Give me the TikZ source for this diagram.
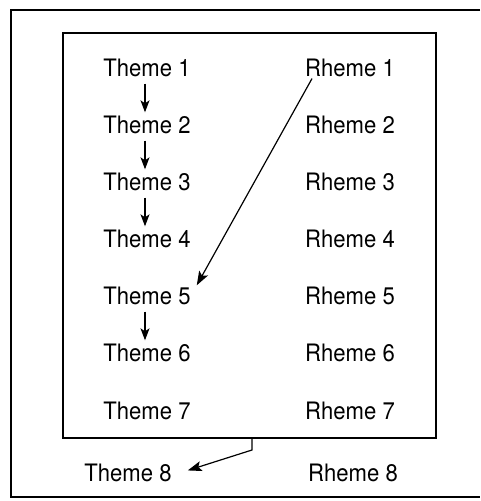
\documentclass[tikz,border=0pt]{standalone}
\usepackage{fontspec}
\setmainfont{TeX Gyre Heros}[FakeStretch=0.92]
\usetikzlibrary{arrows.meta}
\begin{document}
\begin{tikzpicture}[x=1pt,y=-1pt,
  label/.style={font=\fontsize{24}{28}\selectfont, inner sep=0pt, anchor=base},
  flow/.style={line width=1.2pt, -{Stealth[length=12pt,width=9pt,inset=3pt]}},
  jump/.style={line width=1.2pt, -{Stealth[length=14pt,width=10pt,inset=3pt]}}]
\useasboundingbox (0,0) rectangle (480,501);

% outer frame (open on the right)
\draw[line width=1.1pt] (480,10) -- (11,10) -- (11,497) -- (480,497);

% inner box holding the first seven pairs
\node[draw, line width=1.6pt, minimum width=373pt, minimum height=405pt, inner sep=0pt]
  (frame) at (249.5,235.5) {};

% theme / rheme pairs
\foreach \i/\yb in {1/76,2/133,3/190,4/247,5/304,6/361,7/419} {
  \node[label] (t\i) at (147,\yb) {Theme \i};
  \node[label] (r\i) at (350,\yb) {Rheme \i};
}
\node[label] (t8) at (128,481) {Theme 8};
\node[label] (r8) at (353,481) {Rheme 8};

% theme-to-theme progression
\foreach \a/\b in {1/2,2/3,3/4,5/6} {
  \draw[flow] ([shift={(-2,7)}]t\a.south) -- ([shift={(-2,-3)}]t\b.north);
}

% rheme 1 picked up as theme 5
\draw[jump] ([shift={(7,2)}]r1.south west) -- ([shift={(6,-1)}]t5.north east);

% leaving the box to theme 8
\coordinate (bend) at (252,450);
\draw[jump] (frame.south -| bend) -- (bend) -- ([shift={(16,-2)}]t8.east);
\end{tikzpicture}
\end{document}
